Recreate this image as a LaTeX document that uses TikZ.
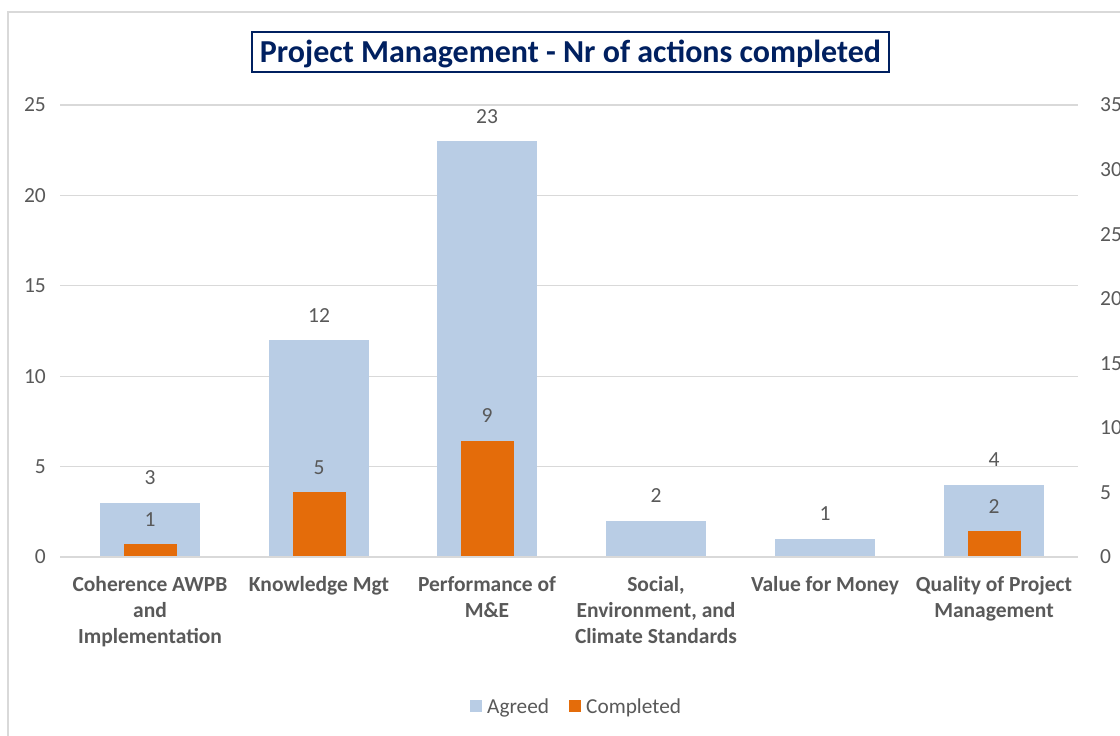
\documentclass[tikz,border=0pt]{standalone}
\usepackage{fontspec}
\setmainfont{Carlito}
\begin{document}
\begin{tikzpicture}[x=1pt,y=-1pt,
  grid/.style={draw=gridc,line width=1.3pt},
  frame/.style={draw=framec,line width=1.3pt},
  axl/.style={text=txtc,font=\fontsize{21.5}{24}\selectfont,anchor=east,inner sep=0},
  axr/.style={text=txtc,font=\fontsize{21.5}{24}\selectfont,anchor=west,inner sep=0},
  val/.style={text=txtc,font=\fontsize{21.5}{24}\selectfont,inner sep=0},
  cat/.style={text=txtc,font=\bfseries\fontsize{21.5}{26}\selectfont,align=center,anchor=north,inner sep=0},
  agreed/.style={fill=agc,draw=none},
  compl/.style={fill=coc,draw=none},
  leg/.style={text=txtc,font=\fontsize{21.3}{24}\selectfont,anchor=west,inner sep=0}]
\definecolor{gridc}{HTML}{D9D9D9}
\definecolor{framec}{HTML}{D9D9D9}
\definecolor{txtc}{HTML}{595959}
\definecolor{agc}{HTML}{B9CDE5}
\definecolor{coc}{HTML}{E46C0A}
\definecolor{navy}{HTML}{002060}
\useasboundingbox (0,0) rectangle (1120,736);
\fill[white] (0,0) rectangle (1120,736);
% chart frame
\draw[frame] (8,737) -- (8,12) -- (1121,12);
% gridlines and axes labels
\foreach \v [count=\i from 0] in {0,5,10,15,20,25}{
  \pgfmathsetmacro{\yy}{557-\i*90.4}
  \draw[grid] (60,\yy) -- (1078,\yy);
  \node[axl] (l\i) at (46,\yy) {\v};
}
\foreach \v [count=\i from 0] in {0,5,10,15,20,25,30,35}{
  \pgfmathsetmacro{\yy}{557-\i*64.57}
  \node[axr] (r\i) at (1100,\yy) {\v};
}
% bars
\def\ya{18.08}
\def\yc{12.914}
\foreach \c/\a/\b [count=\k from 0] in {150/3/1,319/12/5,487/23/9,656/2/0,825/1/0,994/4/2}{
  \fill[agreed] (\c-50,557) rectangle (\c+50,557-\a*\ya);
  \node[val] (va\k) at (\c,557-\a*\ya-25) {\a};
}
\foreach \c/\b [count=\k from 0] in {150/1,319/5,487/9,994/2}{
  \fill[compl] (\c-26.5,557) rectangle (\c+26.5,557-\b*\yc);
  \node[val] (vc\k) at (\c,557-\b*\yc-25) {\b};
}
\draw[grid] (60,557) -- (1078,557);
% categories
\node[cat] (c0) at (150,576) {Coherence AWPB\\and\\Implementation};
\node[cat] (c1) at (319,576) {Knowledge Mgt};
\node[cat] (c2) at (487,576) {Performance of\\M\&E};
\node[cat] (c3) at (656,576) {Social,\\Environment, and\\Climate Standards};
\node[cat] (c4) at (825,576) {Value for Money};
\node[cat] (c5) at (994,576) {Quality of Project\\Management};
% title
\node[draw=navy,line width=1.3pt,minimum width=637,minimum height=40,inner sep=0] (titlebox) at (570.5,52) {};
\node[text=navy,font=\bfseries\fontsize{32}{36}\selectfont,inner sep=0] (title) at (570.5,54) {Project Management - Nr of actions completed};
% legend
\fill[agc] (470,700) rectangle (482,712);
\node[leg] (lg1) at (487,708) {Agreed};
\fill[coc] (569,700) rectangle (581,712);
\node[leg] (lg2) at (586,708) {Completed};
\end{tikzpicture}
\end{document}
